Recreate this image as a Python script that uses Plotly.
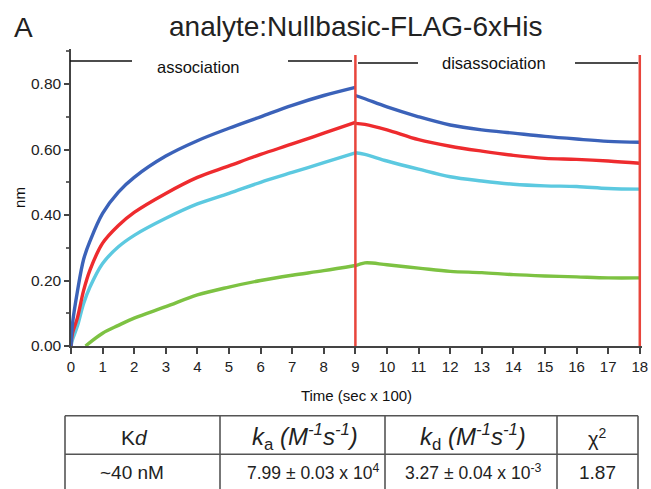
import plotly.graph_objects as go

# ---------------- data ----------------
t_assoc = [0, 0.05, 0.2, 0.4, 0.6, 1, 1.5, 2, 3, 4, 5, 6, 7, 8, 9]
blue_assoc = [0, 0.07, 0.165, 0.265, 0.32, 0.405, 0.47, 0.515, 0.58, 0.627, 0.665, 0.70, 0.735, 0.765, 0.79]
red_assoc = [0, 0.04, 0.085, 0.17, 0.232, 0.314, 0.368, 0.408, 0.466, 0.515, 0.55, 0.585, 0.617, 0.65, 0.683]
cyan_assoc = [0, 0.02, 0.06, 0.13, 0.18, 0.252, 0.303, 0.338, 0.39, 0.434, 0.466, 0.50, 0.53, 0.56, 0.59]

t_green_assoc = [0.46, 1, 1.5, 2, 3, 4, 5, 6, 7, 8, 9]
green_assoc = [0, 0.039, 0.063, 0.085, 0.12, 0.156, 0.18, 0.20, 0.216, 0.23, 0.246]

t_dissoc = [9, 9.3, 10, 11, 12, 13, 14, 15, 16, 17, 18]
blue_dissoc = [0.765, 0.755, 0.73, 0.70, 0.675, 0.66, 0.65, 0.64, 0.632, 0.625, 0.622]
red_dissoc = [0.68, 0.677, 0.66, 0.63, 0.61, 0.595, 0.582, 0.573, 0.57, 0.565, 0.558]
cyan_dissoc = [0.59, 0.585, 0.565, 0.54, 0.517, 0.504, 0.494, 0.489, 0.487, 0.481, 0.479]
green_dissoc = [0.245, 0.254, 0.248, 0.238, 0.228, 0.224, 0.218, 0.214, 0.211, 0.208, 0.208]

x_ticks = list(range(0, 19))
y_ticks = [0.0, 0.2, 0.4, 0.6, 0.8]
y_tick_labels = ["0.00", "0.20", "0.40", "0.60", "0.80"]

phase_marks = [9, 18]
phase_labels = ["association", "disassociation"]

table_header = ["K<i>d</i>",
                "<i>k</i><sub>a</sub> <i>(M<sup>-1</sup>s<sup>-1</sup>)</i>",
                "<i>k</i><sub>d</sub> <i>(M<sup>-1</sup>s<sup>-1</sup>)</i>",
                "χ<sup>2</sup>"]
table_row = ["~40 nM",
             "7.99 ± 0.03 x 10<sup>4</sup>",
             "3.27 ± 0.04 x 10<sup>-3</sup>",
             "1.87"]

# ---------------- figure ----------------
FONT = "Liberation Sans, Arial, sans-serif"
BLUE = "#3b62b9"
RED = "#ee2b2e"
CYAN = "#5cc9e0"
GREEN = "#7dc242"
VRED = "#e8453c"
INK = "#222222"

fig = go.Figure()
series = [
    (t_green_assoc, green_assoc, GREEN), (t_dissoc, green_dissoc, GREEN),
    (t_assoc, cyan_assoc, CYAN), (t_dissoc, cyan_dissoc, CYAN),
    (t_assoc, red_assoc, RED), (t_dissoc, red_dissoc, RED),
    (t_assoc, blue_assoc, BLUE), (t_dissoc, blue_dissoc, BLUE),
]
for xs, ys, c in series:
    fig.add_trace(go.Scatter(x=xs, y=ys, mode="lines",
                             line=dict(color=c, width=3.4, shape="spline", smoothing=1.0),
                             hoverinfo="skip", showlegend=False))

W, H = 651, 489
L, R, T, B = 71, 9, 49, 143
pw, ph = W - L - R, H - T - B


def px(x):
    return (x - L) / pw


def py(y):
    return (H - B - y) / ph


shapes = []
for m in phase_marks:
    shapes.append(dict(type="line", xref="x", yref="paper", x0=m, x1=m, y0=0, y1=py(55),
                       line=dict(color=VRED, width=2.5), layer="above"))

# phase label lines
for x0, x1, yy in [(70, 132, 61), (288, 352, 61), (358, 418, 63), (575, 638, 63)]:
    shapes.append(dict(type="line", xref="paper", yref="paper", x0=px(x0), x1=px(x1),
                       y0=py(yy), y1=py(yy), line=dict(color="#111", width=1.5)))

# table
tbl_x = [65, 220, 385, 557, 638]
tbl_top, tbl_mid, tbl_bot = 415.7, 454.3, 495
for yy in (tbl_top, tbl_mid):
    shapes.append(dict(type="line", xref="paper", yref="paper", x0=px(tbl_x[0]), x1=px(tbl_x[-1]),
                       y0=py(yy), y1=py(yy), line=dict(color="#555", width=1.6)))
for xx in tbl_x:
    shapes.append(dict(type="line", xref="paper", yref="paper", x0=px(xx), x1=px(xx),
                       y0=py(tbl_top), y1=py(tbl_bot), line=dict(color="#555", width=1.6)))


def note(text, x, y, size, color=INK):
    return dict(text=text, xref="paper", yref="paper", x=px(x), y=py(y), showarrow=False,
                xanchor="center", yanchor="middle",
                font=dict(family=FONT, size=size, color=color))


annotations = [
    note(phase_labels[0], 198, 67, 16.5, "#111"),
    note(phase_labels[1], 494, 63, 16.5, "#111"),
    note("A", 23, 28, 28),
    note("analyte:Nullbasic-FLAG-6xHis", 355, 27, 28),
]
hdr_centers = [134, 305, 473, 597]
row_centers = [132, 313, 473, 597]
hdr_sizes = [21, 24, 24, 20]
row_sizes = [19, 17.5, 17.5, 19]
for c, txt, s in zip(hdr_centers, table_header, hdr_sizes):
    annotations.append(note(txt, c, 437, s))
for c, txt, s in zip(row_centers, table_row, row_sizes):
    annotations.append(note(txt, c, 472, s))

fig.update_layout(
    width=W, height=H, autosize=False,
    margin=dict(l=L, r=R, t=T, b=B, pad=0),
    plot_bgcolor="white", paper_bgcolor="white",
    showlegend=False,
    shapes=shapes, annotations=annotations,
    xaxis=dict(range=[0, 18.07], tickvals=x_ticks, ticks="outside", ticklen=6, tickwidth=1.5,
               tickcolor="#444", showline=True, linecolor="#444", linewidth=1.5,
               showgrid=False, zeroline=False, automargin=False,
               tickfont=dict(family=FONT, size=15, color=INK),
               title=dict(text="Time (sec x 100)", standoff=17,
                          font=dict(family=FONT, size=15, color="#111"))),
    yaxis=dict(range=[0, 0.907], tickvals=y_ticks, ticktext=y_tick_labels, ticks="outside",
               ticklen=5, tickwidth=1.5, tickcolor="#444", showline=True, linecolor="#444",
               linewidth=1.5, showgrid=False, zeroline=False, automargin=False,
               minor=dict(dtick=0.1, ticklen=3, tickcolor="#666", tickwidth=1.5, ticks="outside",
                          showgrid=False),
               tickfont=dict(family=FONT, size=15.5, color=INK),
               title=dict(text="nm", standoff=2, font=dict(family=FONT, size=15, color="#111"))),
)

fig.write_html("out.html", config={"displayModeBar": False},
               post_script="document.body.style.margin='0';")
